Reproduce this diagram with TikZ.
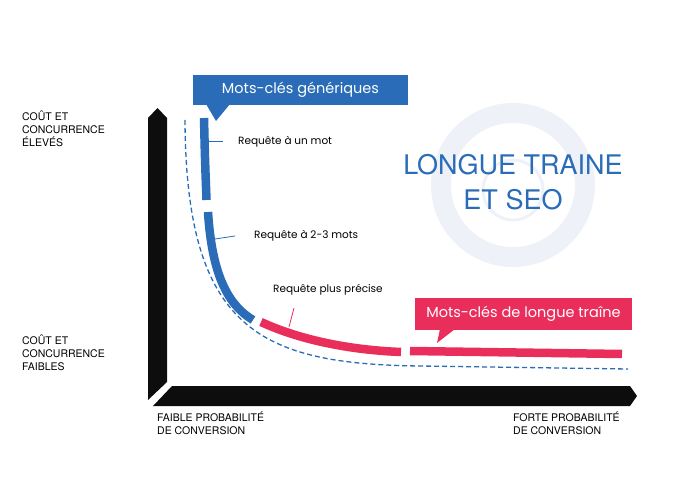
\documentclass[tikz,border=0pt]{standalone}
\usepackage{fontspec}
\setmainfont{Poppins}
\newfontfamily\titlefont{TeX Gyre Heros}
\usetikzlibrary{positioning}
\definecolor{seoblue}{HTML}{2A6CB8}
\definecolor{seored}{HTML}{EA2E5C}
\definecolor{ringgrey}{HTML}{EEF2F8}
\begin{document}
\begin{tikzpicture}[x=1pt,y=-1pt]
	\tikzset{
		axisbar/.style={fill=black!95},
		curveseg/.style={line width=8.5pt},
		tick/.style={line width=0.8pt},
		small/.style={font=\fontsize{10.5}{12}\selectfont, anchor=west, inner sep=0pt},
		axislabel/.style={font=\titlefont\fontsize{10.5}{13}\selectfont, align=left, anchor=north west, inner sep=0pt},
		callout/.style={font=\fontsize{14.5}{16}\selectfont, text=white, inner sep=0pt}
	}
	\useasboundingbox (0,0) rectangle (693,502);

	% background ring
	\fill[ringgrey, even odd rule] (513,185) circle (82) (513,185) circle (62);
	\draw[ringgrey, line width=3pt] (513,190) circle (30);
	\node[font=\titlefont\fontsize{27}{35}\selectfont, text=seoblue, align=center] (title) at (513,182) {LONGUE TRAINE\\ET SEO};

	% axes
	\fill[axisbar] (148,400) -- (148,118) -- (157.5,108) -- (167,118) -- (167,382) -- cycle;
	\fill[axisbar] (153,406) -- (172,386) -- (630,386) -- (637,396) -- (630,406) -- cycle;

	% dashed reference curve
	\draw[seoblue, dash pattern=on 5pt off 3pt, line width=1.3pt] (185,120) .. controls (186,330) and (260,364) .. (420,366) -- (628,369);

	% curve segments
	\draw[seoblue, curveseg] (204,118) .. controls (205,160) .. (206.5,200);
	\draw[seoblue, curveseg] (208,212) .. controls (212,275) and (228,305) .. (253,320);
	\draw[seored, curveseg] (261,322) .. controls (300,340) and (350,350) .. (401,352);
	\draw[seored, curveseg] (410,351) -- (622,354);

	% callouts
	\fill[seoblue] (193,75) rectangle (408,105);
	\fill[seoblue] (206,104) -- (216,121) -- (230,104) -- cycle;
	\node[callout] (generic) at (300.5,90) {Mots-clés génériques};
	\fill[seored] (415,298) rectangle (632,330);
	\fill[seored] (440,329) -- (437,343) -- (455,329) -- cycle;
	\node[callout] (longtail) at (523.5,314) {Mots-clés de longue traîne};

	% curve labels
	\node[small] (one) at (238,142) {Requête à un mot};
	\draw[seoblue, tick] (208,141) -- (223,141);
	\node[small] (twothree) at (254,236) {Requête à 2-3 mots};
	\draw[seoblue, tick] (215,239) -- (235,236);
	\node[small] (precise) at (273,290) {Requête plus précise};
	\draw[seored, tick] (294,308) -- (289,327);

	% axis labels
	\node[axislabel] (high) at (22,111) {COÛT ET\\CONCURRENCE\\ÉLEVÉS};
	\node[axislabel] (low) at (22,335) {COÛT ET\\CONCURRENCE\\FAIBLES};
	\node[axislabel] (weak) at (157,412) {FAIBLE PROBABILITÉ\\DE CONVERSION};
	\node[axislabel] (strong) at (513,412) {FORTE PROBABILITÉ\\DE CONVERSION};
\end{tikzpicture}
\end{document}
